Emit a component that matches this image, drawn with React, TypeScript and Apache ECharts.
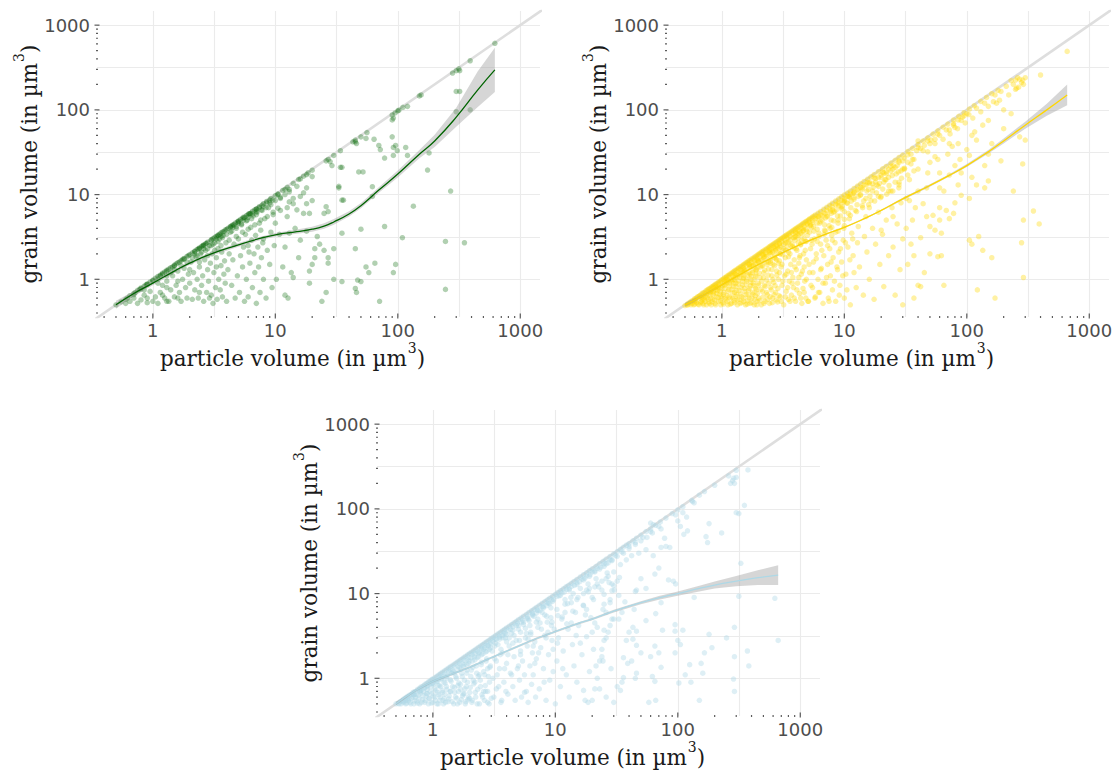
import React, { useEffect, useRef } from "react";
import * as echarts from "echarts";

// ---------- axis / tick values ----------
const X_MIN = 0.35;
const X_MAX = 1449;
const Y_MIN = 0.3589;
const Y_MAX = 1469;
const gridVals = [1, 3.162, 10, 31.62, 100, 316.2, 1000];
const majorTicks = [1, 10, 100, 1000];
const minorTicks = [0.4, 0.5, 0.6, 0.7, 0.8, 0.9, 2, 3, 4, 5, 6, 7, 8, 9, 20, 30, 40, 50, 60, 70, 80, 90, 200, 300, 400, 500, 600, 700, 800, 900];

// ---------- panel 1 (dark green) ----------
const greenDiag = [[0.5,0.5],[0.55,0.54],[0.6,0.58],[0.62,0.6],[0.65,0.64],[0.7,0.68],[0.72,0.7],[0.75,0.74],[0.78,0.76],[0.8,0.79],[0.85,0.83],[0.88,0.86],[0.9,0.88],[0.95,0.93],[1.0,0.98],[1.05,1.03],[1.1,1.08],[1.15,1.12],[1.2,1.18],[1.25,1.22],[1.3,1.28],[1.35,1.32],[1.4,1.37],[1.5,1.47],[1.55,1.52],[1.6,1.57],[1.7,1.66],[1.75,1.72],[1.8,1.76],[1.9,1.86],[2.0,1.96],[2.1,2.05],[2.2,2.15],[2.3,2.25],[2.4,2.35],[2.5,2.45],[2.6,2.55],[2.7,2.64],[2.8,2.74],[3.0,2.94],[3.1,3.03],[3.2,3.13],[3.4,3.33],[3.6,3.52],[3.7,3.62],[3.9,3.82],[4.1,4.0],[4.3,4.2],[4.5,4.4],[4.7,4.6],[5.0,4.9],[5.2,5.1],[5.5,5.4],[5.8,5.65],[6.1,5.95],[6.5,6.35],[7.0,6.8],[7.4,7.2],[8.0,7.8],[8.5,8.3],[9.2,9.0],[10,9.7],[10.5,10.2],[11.5,11.2],[12.5,12.2],[14,13.6],[15.5,15.1],[17,16.5],[18.5,18],[20,19.4],[26,25],[27,26],[30,29],[34,33],[43,42],[45,44],[50,48],[56,54],[90,87],[95,92],[100,97],[102,99],[110,107],[150,146],[155,150],[280,272],[300,290],[315,305],[390,380],[620,610],
[0.7,0.66],[0.8,0.77],[1.0,0.96],[1.2,1.15],[1.3,1.25],[1.5,1.44],[1.8,1.73],[2.2,2.12],[2.4,2.3],[2.6,2.5],[3.0,2.88],[3.4,3.26],[3.8,3.65],[4.3,4.12],[4.6,4.4],[5.0,4.8],[5.6,5.35],[6.2,5.95],[7.0,6.7],[7.8,7.5],[9,8.6],[10.5,10],[12,11.5],[16,15.3],[18,17.2],
[0.9,0.87],[1.15,1.1],[1.45,1.4],[1.65,1.6],[1.95,1.9],[2.35,2.28],[2.55,2.48],[2.75,2.66],[3.3,3.2],[3.5,3.4],[4.0,3.88],[4.4,4.28],[4.9,4.75],[5.4,5.25],[6.0,5.8],[6.8,6.6]];
const greenLow = [[0.6,0.52],[0.65,0.55],[0.7,0.6],[0.75,0.52],[0.8,0.57],[0.85,0.65],[0.9,0.6],[0.95,0.72],[0.9,0.53],[1.0,0.55],[0.85,0.75],
[1.05,0.62],[1.1,0.52],[1.15,0.7],[1.2,0.85],[1.25,0.6],[1.3,0.95],[1.35,0.55],[1.4,0.75],[1.45,1.1],[1.5,0.62],[1.55,0.85],[1.6,1.25],[1.65,0.7],[1.7,0.55],[1.75,1.0],[1.8,1.35],[1.85,0.8],[1.9,0.6],[1.95,1.15],[1.2,0.65],[1.4,1.2],[1.1,0.9],[1.3,0.55],[1.6,0.6],
[2.0,0.9],[2.05,1.6],[2.1,0.58],[2.15,1.2],[2.2,0.75],[2.25,1.85],[2.3,1.0],[2.35,0.6],[2.4,1.4],[2.45,2.0],[2.5,0.85],[2.55,1.1],[2.6,0.55],[2.65,1.7],[2.7,2.2],[2.75,0.7],[2.8,1.3],[2.85,0.95],[2.9,2.5],[2.95,1.55],[3.0,0.65],[3.05,2.0],[3.1,0.52],[3.15,1.2],[3.2,2.7],[3.25,0.8],[3.3,1.8],[3.35,0.58],[3.4,2.3],[3.45,1.0],[3.5,3.0],[3.55,0.75],[3.6,1.45],[3.65,2.1],[3.7,0.62],[3.75,3.3],[3.8,1.15],[3.85,1.65],[3.9,0.9],[3.95,2.7],[2.2,2.0],[2.6,2.3],[3.0,2.5],[3.3,3.0],[3.6,3.2],[2.4,0.7],[2.9,0.6],[3.3,1.4]];
const greenMid = [[4.0,0.55],[4.1,1.3],[4.2,2.0],[4.3,3.6],[4.4,0.85],[4.5,1.7],[4.6,2.6],[4.7,0.6],[4.8,4.0],[4.9,1.1],[5.0,3.0],[5.1,0.7],[5.2,1.9],[5.3,4.5],[5.4,1.4],[5.5,2.4],[5.6,0.55],[5.7,3.4],[5.8,1.0],[5.9,5.0],[6.0,0.62],[6.1,2.1],[6.2,1.55],[6.3,4.1],[6.4,2.9],[6.5,0.8],[6.6,5.6],[6.7,2.0],[6.8,1.2],[6.9,3.3],[7.0,0.52],[7.1,6.2],[7.2,2.4],[7.3,1.4],[7.4,4.6],[7.5,0.7],[7.6,3.8],[7.7,1.8],[7.8,6.5],[7.9,2.7],[8.0,1.0],[8.2,5.2],[8.4,0.6],[8.6,2.2],[8.8,7.0],[9.0,1.5],[9.2,3.6],[9.4,0.8],[9.6,5.8],[9.8,2.5],[4.5,4.1],[5.0,4.6],[5.5,5.0],[6.0,5.4],[6.5,5.9],[7.0,6.3],[8.0,7.2],[9.0,8.0],[9.5,8.6],[6.3,6.0],[7.4,7.0],[8.5,8.0],
[10.2,1.0],[10.5,6.9],[10.8,3.4],[11.0,9.3],[11.5,1.4],[12.0,0.65],[12.0,2.4],[12.5,5.5],[12.7,0.6],[13.0,10.8],[13.0,3.5],[13.5,1.2],[14.0,7.8],[14.0,1.05],[14.5,4.0],[15.0,12.5],[15.0,6.6],[15.5,1.8],[16.0,2.9],[17.0,10.5],[17.0,6.0],[18.0,7.8],[18.0,3.7],[19.0,1.25],[19.0,0.9],[19.0,6.0],[20.0,16.3],[20.0,8.5],[20.0,1.5],[21.0,2.3],[21.0,1.8],[22.0,3.2],[23.0,2.6],[24.0,0.55],[25.0,6.0],[25.0,2.2],[26.0,7.2],[26.0,0.7],[27.0,6.3],[27.0,1.55],[27.0,1.8],[28.0,24.5],[29.0,22],[30.0,2.3],[30.0,1.0]];
const greenBand = [[1.1,1.0],[1.3,1.1],[1.5,1.3],[1.7,1.45],[1.9,1.6],[2.1,1.8],[2.3,1.9],[2.5,2.1],[2.8,2.3],[3.1,2.6],[3.4,2.8],[3.7,3.1],[4.0,3.4],[4.4,3.7],[4.8,4.2],[5.3,4.4],[5.8,4.9],[6.4,5.2],[7.0,5.8],[7.7,6.6],[8.4,7.0],[9.2,7.6],[10,8.5],[11,9.0],[12,10],[13,11.5],[1.3,0.8],[1.6,0.95],[2.0,1.3],[2.4,1.6],[2.8,1.9],[3.2,2.2],[3.6,2.5],[4.2,2.9],[4.8,3.2],[5.4,3.6],[6.0,3.9],[6.8,4.4],[7.6,5.0],[8.6,5.5],[9.6,6.2],[11,6.5],[12.5,7.0],[14,9],[16,9.5],[18,12],[13,8.2],[10,4.6],[8,3.0],[6,2.5]];
const greenSparse = [[33,12],[33,12.5],[34,21],[35,21],[35,8.6],[36,8.6],[35,3.5],[35,0.94],[45,42],[46,40],[45,2.3],[45,0.78],[46,0.7],[47,0.98],[48,18.5],[50,3.9],[50,0.94],[52,18.5],[55,46],[55,1.4],[58,1.2],[62,9.5],[62,12.4],[64,45],[65,1.55],[70,38],[71,0.55],[72,34],[78,4.2],[78,27],[90,48],[90,76],[92,80],[92,36],[92,29],[92,1.2],[96,38],[96,1.5],[99,33],
[109,3.1],[116,36],[120,29],[120,110],[134,7.3],[175,19.5],[180,31],[245,2.8],[245,0.76],[270,11],[300,95],[320,165],[300,165],[350,2.7],[390,100],[320,290]];
const fitX1 = [0.5,0.7,1,1.5,2,3,5,7,10,15,20,25,30,40,50,70,100,150,200,300,450,620];
const fitY1 = [0.5,0.68,0.9,1.25,1.55,2.0,2.55,2.95,3.35,3.65,3.9,4.25,4.75,5.9,7.4,11.3,17.5,30,43,82,172,296];
const lo1 = [0.45,0.63,0.85,1.19,1.48,1.9,2.43,2.81,3.19,3.45,3.65,3.95,4.4,5.5,6.9,10.5,15.9,26.8,36.4,63,108,162];
const hi1 = [0.56,0.73,0.95,1.31,1.63,2.1,2.68,3.1,3.52,3.87,4.17,4.6,5.15,6.35,7.95,12.2,19.3,33.6,50.7,106,285,540];

// ---------- panel 2 (gold) ----------
const goldDiag = [[0.5,0.49],[0.52,0.5],[0.53,0.52],[0.55,0.53],[0.56,0.55],[0.58,0.56],[0.6,0.59],[0.6,0.55],[0.62,0.6],[0.63,0.62],[0.65,0.63],[0.66,0.64],[0.66,0.6],[0.68,0.67],[0.7,0.69],[0.7,0.64],[0.72,0.7],[0.74,0.73],[0.74,0.68],[0.76,0.75],[0.78,0.77],[0.78,0.71],[0.8,0.78],[0.82,0.81],[0.82,0.75],[0.84,0.82],[0.86,0.85],[0.86,0.79],[0.88,0.86],[0.9,0.89],[0.9,0.82],[0.93,0.91],[0.95,0.94],[0.95,0.87],[0.98,0.96],[1.0,0.99],[1.0,0.91],[1.03,1.01],[1.05,1.04],[1.05,0.96],[1.08,1.06],[1.1,1.09],[1.1,1.0],[1.13,1.11],[1.16,1.15],[1.16,1.05],[1.19,1.17],[1.22,1.21],[1.22,1.11],[1.25,1.23],[1.28,1.27],[1.28,1.16],[1.31,1.29],[1.35,1.34],[1.35,1.22],[1.38,1.36],[1.42,1.41],[1.42,1.29],[1.46,1.44],[1.5,1.49],[1.5,1.36],[1.54,1.52],[1.58,1.57],[1.58,1.43],[1.62,1.6],[1.66,1.65],[1.66,1.5],[1.7,1.68],[1.75,1.74],[1.75,1.58],[1.8,1.78],[1.85,1.83],[1.85,1.67],[1.9,1.88],[1.95,1.93],[1.95,1.76],[2.0,1.98],[2.05,2.03],[2.05,1.85],[2.1,2.08],[2.15,2.13],[2.15,1.94],[2.2,2.18],[2.27,2.25],[2.27,2.05],[2.33,2.3],[2.4,2.38],[2.4,2.16],[2.46,2.43],[2.52,2.5],[2.52,2.27],[2.58,2.55],[2.65,2.62],[2.65,2.38],[2.72,2.69],[2.8,2.77],[2.8,2.52],[2.88,2.85],[2.95,2.92],[2.95,2.65],[3.03,3.0],[3.1,3.07],[3.1,2.79],[3.18,3.14],[3.25,3.22],[3.25,2.92],[3.33,3.29],[3.4,3.37],[3.4,3.06],[3.5,3.46],[3.6,3.56],[3.6,3.24],[3.7,3.66],[3.8,3.76],[3.8,3.42],[3.9,3.86],[4.0,3.96],[4.0,3.6],[4.1,4.05],[4.2,4.15],[4.2,3.78],[4.33,4.28],[4.45,4.4],[4.45,4.0],[4.58,4.53],[4.7,4.65],[4.7,4.23],[4.83,4.78],[4.95,4.9],[4.95,4.45],[5.1,5.04],[5.2,5.15],[5.2,4.68],[5.35,5.29],[5.5,5.44],[5.5,4.95],[5.65,5.58],[5.8,5.74],[5.8,5.2],[6.1,6.03],[6.1,5.5],[6.4,6.33],[6.4,5.75],[6.8,6.72],[6.8,6.1],[7.2,7.1],[7.2,6.5],[7.6,7.5],[7.6,6.8],[8.0,7.9],[8.0,7.2],[8.5,8.4],[8.5,7.6],[9.0,8.9],[9.0,8.1],[9.5,9.4],[9.5,8.5],[10,9.9],[10,9.0],[10.6,10.4],[10.6,9.5],[11.2,11.0],[11.2,10.1],[12,11.8],[12,10.8],[12.8,12.6],[12.8,11.5],[13.6,13.4],[13.6,12.2],[14.5,14.3],[14.5,13],[15.5,15.2],[15.5,13.9],[16.5,16.2],[17.5,17.2],[17.5,15.7],[19,18.6],[20.5,20.1],[20.5,18.4],[22,21.5],[24,23.5],[24,21.6],[26,25.4],[28,27.4],[28,25],[30,29.3],[33,32.3],[33,29.5],[36,35.2],[40,39],[40,35.8],[44,43],[48,46.8],[48,43],[53,51.7],[58,56.6],[58,51.8],[64,62.4],[70,68],[78,76],[78,69],[86,84],[95,92.6],[95,85],[105,102],[115,112],[130,126],[145,140],[160,155],[180,170],[230,222],[250,225],[260,240]];
const goldWedge = [[0.56,0.5],[0.6,0.51],[0.62,0.53],[0.65,0.5],[0.68,0.55],[0.7,0.52],[0.72,0.58],[0.75,0.5],[0.76,0.61],[0.78,0.54],[0.8,0.65],[0.82,0.5],[0.84,0.58],[0.86,0.69],[0.88,0.52],[0.9,0.62],[0.92,0.74],[0.94,0.55],[0.96,0.67],[0.98,0.5],[1.0,0.78],[1.0,0.6],
[1.02,0.53],[1.04,0.7],[1.06,0.85],[1.08,0.57],[1.1,0.64],[1.12,0.5],[1.14,0.76],[1.16,0.9],[1.18,0.6],[1.2,0.52],[1.22,0.69],[1.24,0.82],[1.26,0.56],[1.28,0.98],[1.3,0.63],[1.32,0.74],[1.34,0.5],[1.36,0.88],[1.38,0.58],[1.4,1.05],[1.42,0.67],[1.44,0.8],[1.46,0.53],[1.48,0.94],[1.5,0.6],[1.52,1.12],[1.54,0.72],[1.56,0.5],[1.58,0.86],[1.6,1.0],[1.62,0.56],[1.64,0.65],[1.66,1.2],[1.68,0.78],[1.7,0.52],[1.72,0.92],[1.74,1.08],[1.76,0.6],[1.78,0.7],[1.8,1.28],[1.82,0.84],[1.84,0.5],[1.86,1.0],[1.88,0.64],[1.9,1.15],[1.92,0.75],[1.94,0.55],[1.96,1.36],[1.98,0.9],
[2.0,0.6],[2.05,1.05],[2.1,0.5],[2.12,1.45],[2.15,0.72],[2.2,1.2],[2.22,0.85],[2.25,0.55],[2.3,1.6],[2.32,0.98],[2.35,0.66],[2.4,1.32],[2.45,0.52],[2.48,1.75],[2.5,0.8],[2.55,1.1],[2.6,0.6],[2.62,1.5],[2.65,0.92],[2.7,1.9],[2.75,0.7],[2.8,1.25],[2.85,0.54],[2.88,2.05],[2.9,1.0],[2.95,1.65],[3.0,0.62],[3.05,1.4],[3.1,0.85],[3.15,2.2],[3.2,0.5],[3.25,1.1],[3.3,1.8],[3.35,0.72],[3.4,2.4],[3.45,1.25],[3.5,0.58],[3.55,0.95],[3.6,2.0],[3.65,1.5],[3.7,0.65],[3.75,2.6],[3.8,1.05],[3.85,0.8],[3.9,1.7],[3.95,2.9],[4.0,0.55],[4.05,1.3],[4.1,2.2],[4.15,0.9],[4.2,3.1],[4.25,1.55],[4.3,0.68],[4.35,1.9],[4.4,2.6],[4.45,1.15],[4.5,0.52],[4.55,3.4],[4.6,0.78],[4.65,2.0],[4.7,1.4],[4.75,0.95],[4.8,2.8],[4.85,0.6],[4.9,1.7],[4.95,3.7],
[0.7,0.6],[0.8,0.7],[0.95,0.78],[1.1,0.9],[1.25,1.0],[1.4,1.15],[1.55,1.25],[1.7,1.4],[1.9,1.5],[2.1,1.7],[2.3,1.85],[2.6,2.1],[2.9,2.3],[3.2,2.6],[3.6,2.9],[4.0,3.2],[4.4,3.5],[4.9,3.9],[1.2,0.95],[1.5,1.2],[2.0,1.6],[2.5,2.0],[3.0,2.4],[3.5,2.75],[4.2,3.3],[0.85,0.72],[1.05,0.88],[1.35,1.1],[1.8,1.45],[2.2,1.8],[2.75,2.2],[3.3,2.7],[3.9,3.1],[4.6,3.7]];
const goldFill = [[0.53,0.5],[0.57,0.52],[0.59,0.5],[0.61,0.56],[0.64,0.51],[0.67,0.53],[0.69,0.57],[0.71,0.5],[0.73,0.62],[0.73,0.55],[0.77,0.58],[0.79,0.52],[0.81,0.6],[0.81,0.72],[0.83,0.54],[0.85,0.66],[0.87,0.57],[0.89,0.75],[0.89,0.5],[0.91,0.68],[0.93,0.61],[0.94,0.82],[0.97,0.56],[0.97,0.72],[0.99,0.63],[1.01,0.84],[1.03,0.51],[1.03,0.66],[1.06,0.78],[1.07,0.6],[1.09,0.93],[1.11,0.55],[1.12,0.72],[1.15,0.83],[1.15,0.62],[1.17,0.51],[1.19,0.99],[1.21,0.76],[1.23,0.6],[1.24,0.9],[1.27,0.53],[1.27,0.7],[1.29,1.06],[1.31,0.82],[1.33,0.66],[1.34,0.57],[1.37,0.96],[1.39,0.74],[1.41,0.52],[1.43,1.2],[1.45,0.62],[1.47,0.86],[1.49,1.02],[1.51,0.55],[1.53,0.78],[1.55,1.32],[1.57,0.66],[1.59,0.95],[1.61,0.51],[1.63,1.12],[1.65,0.74],[1.67,0.6],[1.69,1.42],[1.71,0.84],[1.73,1.0],[1.76,0.53],[1.78,1.2],[1.79,0.67],[1.81,0.9],[1.83,1.55],[1.86,0.58],[1.88,0.78],[1.89,1.08],[1.91,1.3],[1.93,0.5],[1.95,0.68],[1.97,1.66],[1.99,0.85],[2.02,1.18],[2.04,0.56],[2.07,1.4],[2.09,0.76],[2.11,0.95],[2.14,1.7],[2.17,0.62],[2.19,1.05],[2.21,0.52],[2.24,1.28],[2.26,0.82],[2.29,1.95],[2.31,0.7],[2.34,1.5],[2.36,0.58],[2.39,1.12],[2.42,0.9],[2.44,2.05],[2.47,0.62],[2.5,1.65],[2.53,0.75],[2.56,1.3],[2.58,0.53],[2.61,1.0],[2.64,2.2],[2.67,0.66],[2.69,1.45],[2.72,0.84],[2.75,1.75],[2.78,0.57],[2.81,1.12],[2.84,2.4],[2.87,0.78],[2.9,1.55],[2.93,0.64],[2.96,1.2],[2.99,2.0],[0.6,0.57],[0.75,0.66],[0.92,0.8],[1.13,0.97],[1.32,1.13],[1.52,1.29],[1.74,1.45],[1.98,1.64],[2.23,1.86],[2.48,2.1],[2.74,2.3],[2.98,2.5],[0.68,0.62],[0.88,0.8],[1.08,0.98],[1.26,1.12],[1.46,1.3],[1.68,1.5],[1.92,1.7],[2.18,1.95],[2.45,2.2],[2.72,2.45],[2.97,2.65]];
const goldMid = [[5.1,0.55],[5.2,1.2],[5.3,2.3],[5.4,4.1],[5.5,0.8],[5.6,1.6],[5.7,3.0],[5.8,0.62],[5.9,2.0],[6.0,4.6],[6.1,1.0],[6.2,3.5],[6.3,0.7],[6.4,2.6],[6.5,1.35],[6.6,5.0],[6.7,0.52],[6.8,1.9],[6.9,3.8],[7.0,0.9],[7.1,2.9],[7.2,5.5],[7.3,1.5],[7.4,0.6],[7.5,4.3],[7.6,2.3],[7.7,1.1],[7.8,6.0],[7.9,3.3],[8.0,0.75],[8.1,1.8],[8.2,4.9],[8.4,2.7],[8.5,0.55],[8.6,6.6],[8.8,1.3],[8.9,3.7],[9.0,2.1],[9.2,0.85],[9.3,5.6],[9.5,1.6],[9.6,7.2],[9.8,2.9],[10,0.6],[10,4.3],[10.3,1.15],[10.5,8.0],[10.7,2.4],[11,5.2],[11.2,0.5],[11.5,3.5],[11.8,1.9],[12,9.2],[12.3,6.5],[12.5,0.8],[12.8,2.7],[13,4.2],[13.3,1.4],[13.6,10],[14,7.4],[14.3,0.65],[14.6,3.2],[15,5.5],[15.3,2.1],[15.7,11.5],[16,1.0],[16.5,8.5],[17,4.0],[17.5,0.58],[18,2.6],[18.5,13],[19,6.2],[19.5,1.5],[20,9.5],[20.5,3.4],[21,0.82],[21.5,15],[22,5],[23,1.9],[24,11],[24.5,7],[25,2.4],[26,0.65],[26.5,17.5],[27,4.5],[28,13],[28.5,1.3],[29,8],[30,3.0],[30,20],[20,16],[22,17.5],[24,19],[26,21],[28,24],[30,25],[16,14],[18,15.5],[14,12],[12,10.5],[10,8.3],[11,9.5],[13,11],[15,13],[17,13.5],[19,16],[21,18],[23,20],[25,22]];
const goldMid2 = [[3.05,0.55],[3.1,1.5],[3.15,0.95],[3.2,2.3],[3.3,0.62],[3.35,1.15],[3.4,2.7],[3.45,0.8],[3.5,1.85],[3.6,0.55],[3.65,2.5],[3.7,1.2],[3.75,0.9],[3.85,3.1],[3.9,0.6],[3.95,1.4],[4.05,2.3],[4.1,0.75],[4.15,3.5],[4.25,1.05],[4.3,1.8],[4.4,0.6],[4.5,2.9],[4.55,1.25],[4.65,3.8],[4.7,0.7],[4.8,2.2],[4.9,1.0],[5.0,3.3],[5.05,0.55],[5.15,1.5],[5.25,4.3],[5.35,0.85],[5.45,2.6],[5.55,1.2],[5.65,3.7],[5.75,0.6],[5.9,1.75],[6.0,2.8],[6.15,0.7],[6.3,4.6],[6.4,1.3],[6.55,2.2],[6.7,0.9],[6.85,3.4],[7.0,5.3],[7.15,1.05],[7.3,2.5],[7.5,0.55],[7.65,4.0],[7.8,1.6],[8.0,2.9],[8.15,6.2],[8.3,0.95],[8.5,3.6],[8.7,1.4],[8.9,5.0],[9.1,0.65],[9.3,2.3],[9.5,6.8],[9.7,1.1],[9.9,4.0],[10.2,2.7],[10.5,0.75],[10.8,6.0],[11.1,1.7],[11.4,8.4],[11.7,3.0],[12,1.2],[5.0,4.5],[6.0,5.2],[7.0,6.0],[8.0,6.6],[9.0,7.4],[10,8.6],[11,9.2],[4.3,3.7],[5.5,4.7],[6.6,5.6],[7.7,6.4],[8.8,7.8],[9.8,8.1],[10.8,9.6],[11.8,10.3],[3.5,3.1],[4.0,3.5],[4.6,4.0],[5.3,4.4],[6.2,5.5]];
const goldBand = [[5.2,3.6],[5.6,4.2],[6.0,3.9],[6.4,4.8],[6.9,4.4],[7.3,5.6],[7.8,5.0],[8.3,6.3],[8.8,5.6],[9.4,7.1],[10,6.3],[10.6,7.9],[11.3,7.0],[12,8.8],[12.7,7.6],[13.5,9.8],[14.4,8.4],[15.3,11],[16.2,9.6],[17.2,12.2],[18.3,10.5],[19.4,13.6],[20.6,11.6],[21.9,15],[23.2,12.8],[24.6,16.8],[26,14],[27.6,18.5],[29.3,15.6],[31,20.5],[33,17],[35,23],[37,19],[5.4,2.9],[6.2,3.2],[7.0,3.7],[7.9,4.1],[8.9,4.6],[10,5.1],[11.2,5.7],[12.6,6.3],[14.1,7],[15.8,7.6],[17.7,8.4],[19.8,9.2],[22.2,10.1],[24.9,11],[27.9,12],[1.3,0.9],[1.5,1.05],[1.7,1.15],[1.9,1.3],[2.15,1.45],[2.4,1.6],[2.7,1.8],[3.0,2.0],[3.35,2.2],[3.75,2.45],[4.2,2.7],[4.7,3.0],[2.5,1.55],[2.8,1.7],[3.15,1.95],[3.5,2.1],[3.9,2.35],[4.4,2.55],[4.9,2.8]];
const goldUpper = [[13,9.5],[14,11.5],[15,9],[16,13.5],[17,11],[18,14],[19,12.5],[20,17],[21,14],[22,18.5],[23,16],[25,20],[27,22],[29,19],[31,27],[33,24],[35,30],[37,26],[39,33],[42,35],[45,38],[48,32],[51,44],[55,40],[60,50],[64,45],[68,58],[73,52],[78,66],[84,60],[90,75],[97,70],[104,88],[112,80],[120,105],[130,95],[140,120],[150,110],[170,150],[190,165],[210,190],[240,200],[270,230],[300,240],[16,7],[19,9.5],[23,11],[28,14],[34,15],[40,20],[48,18],[58,26],[70,30],[85,40],[110,50],[135,66],[20,3.8],[25,5.5],[32,4],[40,11],[60,12],[80,8],[110,16],[160,40],[200,100],[220,150],[190,25]];
const goldSparse = [[31,20],[32,9],[33,1.5],[34,8.5],[36,26],[36,5],[37,1.9],[37,0.6],[38,7],[40,43],[40,0.85],[42,0.82],[44,33],[44,7.8],[47,5.5],[50,40],[50,24],[50,4.2],[50,2.0],[53,5.7],[55,45],[55,28],[55,3.8],[58,1.85],[60,18],[60,7],[60,5],[62,1.9],[62,3.5],[65,0.85],[68,6.5],[72,58],[72,40],[72,17],[72,5.2],[76,37],[78,6],[80,62],[80,22],[85,76],[88,26],[90,18],[90,9.8],[92,82],[100,90],[100,34],[105,29],[105,9],[105,2.9],[110,2.6],[116,55],[120,13],[122,0.75],[125,3.2],[135,2.2],[140,22],[140,12],[150,75],[150,30],[150,14.5],[160,1.8],[165,125],[170,0.6],[175,120],[185,130],[240,11],[250,175],[255,180],[265,185],[270,48],[280,210],[280,2.7],[286,225],[286,23],[290,200],[290,5],[290,1.05],[300,44],[350,6.4],[390,4.5],[400,258],[660,490],[30,0.5],[45,1.2],[35,2.6],[42,3.1],[47,12],[65,11],[85,13],[120,44],[200,60],[230,90]];
const fitX2 = [0.5,0.7,1,1.5,2,3,5,7,10,15,20,30,50,70,100,150,200,300,450,660];
const fitY2 = [0.5,0.64,0.86,1.2,1.5,2.0,2.8,3.4,4.1,5.3,6.5,8.9,12.8,16.5,22,32,43,66,100,150];
const lo2 = [0.47,0.62,0.84,1.18,1.47,1.96,2.75,3.33,4.02,5.2,6.37,8.64,12.4,16,21.2,30.5,40.2,60,85,113];
const hi2 = [0.53,0.66,0.88,1.22,1.53,2.04,2.86,3.47,4.18,5.41,6.63,9.17,13.2,17,22.9,33.6,46,72.6,118,199];

// ---------- panel 3 (light blue) ----------
const blueDiag = [[0.5,0.5],[0.52,0.51],[0.54,0.53],[0.56,0.55],[0.58,0.57],[0.6,0.59],[0.62,0.61],[0.64,0.63],[0.66,0.64],[0.68,0.67],[0.7,0.69],[0.72,0.7],[0.75,0.74],[0.78,0.76],[0.8,0.79],[0.83,0.81],[0.86,0.85],[0.89,0.87],[0.92,0.91],[0.95,0.93],[0.98,0.97],[1.0,0.98],[1.04,1.02],[1.08,1.06],[1.12,1.1],[1.16,1.14],[1.2,1.18],[1.25,1.23],[1.3,1.28],[1.35,1.33],[1.4,1.38],[1.46,1.43],[1.52,1.49],[1.58,1.55],[1.64,1.61],[1.7,1.67],[1.77,1.74],[1.84,1.81],[1.92,1.89],[2.0,1.97],[2.08,2.04],[2.16,2.12],[2.25,2.21],[2.35,2.31],[2.45,2.41],[2.55,2.5],[2.65,2.6],[2.76,2.71],[2.88,2.83],[3.0,2.95],[3.12,3.06],[3.25,3.19],[3.4,3.34],[3.55,3.49],[3.7,3.63],[3.85,3.78],[4.0,3.93],[4.2,4.12],[4.4,4.32],[4.6,4.52],[4.8,4.71],[5.0,4.91],[5.25,5.15],[5.5,5.4],[5.8,5.69],[6.1,5.99],[6.4,6.28],[6.7,6.57],[7.0,6.87],[7.4,7.26],[7.8,7.65],[8.2,8.05],[8.6,8.44],[9.0,8.83],[9.5,9.32],[10,9.8],[10.5,10.3],[11,10.8],[11.6,11.4],[12.2,12],[12.8,12.5],[13.5,13.2],[14.2,13.9],[15,14.7],[16,15.7],[17,16.7],[18,17.6],[19,18.6],[20,19.6],[21.5,21],[23,22.5],[24.5,24],[26,25.5],[28,27.4],[30,29.4],[32,31.3],[34,33.3],[36,35.3],[38,37.2],[40,39],[43,42],[46,45],[50,49],[55,54],[60,58],[66,64],[72,70],[80,78],[90,88],[100,97],[110,106],[130,126],[150,145],[200,190],[260,245],[300,285],
[0.62,0.57],[0.7,0.64],[0.78,0.71],[0.86,0.78],[0.95,0.86],[1.05,0.95],[1.15,1.04],[1.25,1.13],[1.38,1.25],[1.5,1.36],[1.65,1.49],[1.8,1.63],[1.95,1.76],[2.1,1.9],[2.3,2.08],[2.5,2.26],[2.7,2.44],[2.95,2.66],[3.2,2.89],[3.5,3.16],[3.8,3.43],[4.1,3.7],[4.5,4.06],[4.9,4.42],[5.4,4.87],[5.9,5.32],[6.5,5.86],[7.1,6.4],[7.8,7.03],[8.6,7.75],[9.4,8.47],[10.3,9.28],[11.3,10.2],[12.4,11.2],[13.6,12.2],[15,13.5],[16.5,14.8],[18,16.2],[20,18],[22,19.8],[25,22.5],[28,25],[31,28],[35,31],[40,36],[45,40],[52,46],[60,54],[70,62]];
const blueWedge = [[0.55,0.5],[0.58,0.52],[0.6,0.5],[0.63,0.55],[0.65,0.52],[0.67,0.58],[0.7,0.5],[0.72,0.6],[0.74,0.54],[0.76,0.63],[0.78,0.5],[0.8,0.67],[0.82,0.56],[0.84,0.7],[0.86,0.52],[0.88,0.62],[0.9,0.74],[0.92,0.5],[0.94,0.58],[0.96,0.8],[0.98,0.66],[1.0,0.52],[1.02,0.86],[1.04,0.6],[1.06,0.72],[1.08,0.5],[1.1,0.92],[1.12,0.64],[1.14,0.55],[1.16,0.8],[1.18,0.98],[1.2,0.68],[1.22,0.5],[1.24,0.58],[1.26,0.88],[1.28,1.05],[1.3,0.74],[1.33,0.53],[1.36,0.62],[1.39,0.96],[1.42,1.15],[1.45,0.8],[1.48,0.5],[1.51,0.68],[1.54,1.05],[1.57,0.58],[1.6,1.25],[1.63,0.88],[1.66,0.52],[1.69,0.74],[1.72,1.15],[1.75,0.62],[1.78,1.38],[1.81,0.95],[1.84,0.5],[1.87,0.8],[1.9,1.25],[1.93,0.56],[1.96,1.5],[2.0,0.68],[2.04,1.05],[2.08,0.52],[2.12,1.35],[2.16,0.86],[2.2,1.65],[2.24,0.6],[2.28,1.15],[2.32,0.74],[2.36,1.8],[2.4,0.5],[2.44,0.95],[2.48,1.45],[2.52,0.64],[2.56,1.95],[2.6,1.2],[2.64,0.55],[2.68,0.82],[2.72,1.6],[2.76,2.1],[2.8,0.7],[2.84,1.05],[2.88,0.5],[2.92,1.35],[2.96,2.3],[1.3,1.0],[1.5,1.15],[1.7,1.3],[1.9,1.45],[2.1,1.6],[2.3,1.75],[2.5,1.9],[2.7,2.05],[2.9,2.2],[1.1,0.82],[0.9,0.66],[1.4,0.7],[1.6,0.82],[1.8,0.66],[2.0,0.58],[2.2,0.9],[2.4,1.1],[2.6,0.7],[2.8,1.3]];
const blueFill = [[0.53,0.5],[0.57,0.53],[0.61,0.51],[0.64,0.57],[0.66,0.5],[0.69,0.6],[0.71,0.54],[0.73,0.65],[0.75,0.51],[0.77,0.58],[0.79,0.7],[0.81,0.52],[0.83,0.62],[0.85,0.76],[0.87,0.55],[0.89,0.66],[0.91,0.82],[0.93,0.58],[0.95,0.7],[0.97,0.51],[0.99,0.86],[1.01,0.62],[1.03,0.75],[1.05,0.55],[1.07,0.92],[1.09,0.68],[1.11,0.5],[1.13,0.82],[1.15,0.6],[1.17,1.0],[1.19,0.72],[1.21,0.55],[1.23,0.9],[1.25,0.65],[1.27,0.52],[1.29,0.8],[1.32,1.1],[1.35,0.57],[1.38,0.7],[1.41,0.92],[1.44,0.53],[1.47,1.2],[1.5,0.78],[1.53,0.6],[1.56,1.0],[1.59,0.5],[1.62,0.7],[1.65,1.35],[1.68,0.85],[1.71,0.56],[1.74,1.05],[1.77,0.65],[1.8,1.45],[1.83,0.75],[1.86,0.53],[1.89,1.15],[1.92,0.9],[1.95,0.6],[1.98,1.6],[2.02,0.78],[2.06,1.25],[2.1,0.55],[2.14,0.95],[2.18,1.8],[2.22,0.68],[2.26,1.4],[2.3,0.5],[2.35,1.05],[2.4,2.0],[2.45,0.8],[2.5,1.55],[2.55,0.6],[2.6,2.2],[2.65,1.1],[2.7,0.7],[2.75,1.7],[2.8,0.52],[2.85,2.4],[2.9,0.9],[2.95,1.4],[3.05,2.1],[3.15,0.6],[3.25,2.6],[3.35,1.1],[3.45,0.8],[3.55,1.9],[3.65,0.55],[3.75,3.0],[3.85,1.3],[3.95,0.7],[1.2,1.05],[1.45,1.25],[1.75,1.5],[2.05,1.75],[2.35,2.0],[2.65,2.3],[2.95,2.55],[3.3,2.9],[3.7,3.2],[0.7,0.64],[0.9,0.8],[1.1,0.97],[0.6,0.55],[0.8,0.72],[1.0,0.88],[1.35,1.2],[1.6,1.4],[1.9,1.65],[2.2,1.95],[2.5,2.2],[2.8,2.45],[3.1,2.75],[3.5,3.05],[3.9,3.4]];
const blueMid = [[3.0,0.58],[3.1,1.0],[3.2,1.7],[3.3,0.75],[3.4,2.5],[3.5,1.3],[3.6,0.52],[3.7,2.0],[3.8,0.9],[3.9,3.0],[4.0,1.5],[4.1,0.65],[4.2,2.4],[4.3,1.15],[4.4,3.4],[4.5,0.8],[4.6,1.8],[4.7,0.55],[4.8,2.8],[4.9,1.3],[5.0,3.8],[5.1,0.95],[5.2,2.1],[5.3,0.6],[5.4,1.6],[5.5,4.3],[5.6,1.1],[5.7,3.0],[5.8,0.7],[5.9,2.4],[6.0,0.52],[6.1,4.8],[6.2,1.4],[6.3,3.5],[6.4,0.85],[6.5,2.0],[6.6,1.1],[6.7,5.4],[6.8,2.7],[6.9,0.6],[7.0,1.7],[7.2,4.0],[7.4,0.75],[7.6,2.3],[7.8,6.0],[8.0,1.3],[8.2,3.2],[8.4,0.55],[8.6,4.6],[8.8,1.9],[9.0,0.95],[9.2,6.8],[9.4,2.8],[9.6,1.2],[9.8,3.8],[3.5,2.9],[4.0,3.3],[4.5,3.7],[5.0,4.2],[5.5,4.6],[6.0,5.0],[6.5,5.5],[7.0,5.9],[7.5,6.3],[8.0,6.8],[8.5,7.2],[9.0,7.6],[9.5,8.1],[4.2,3.0],[5.2,3.5],[6.2,4.2],[7.2,5.0],[8.2,5.6],[9.2,5.2],
[10,0.5],[10.3,1.6],[10.6,3.0],[11,0.8],[11.3,5.0],[11.6,2.1],[12,7.5],[12.3,1.1],[12.7,3.8],[13,0.6],[13.4,9],[13.8,2.5],[14.2,1.4],[14.6,6],[15,0.9],[15.5,4.2],[16,11.5],[16.5,1.9],[17,7.2],[17.5,0.55],[18,3.1],[18.5,13],[19,1.2],[19.5,5.2],[20,9],[20.5,2.2],[21,0.75],[21.5,15],[22,4],[23,1.6],[24,11],[24.5,6.5],[25,2.8],[26,0.6],[26.5,17.5],[27,3.5],[28,8.5],[28.5,1.3],[29,13],[30,5],[11,9.5],[13,11],[15,12.8],[17,14.5],[19,16],[21,18],[23,19.5],[25,21],[27,23],[29,24.5],[12,8.5],[14,10],[18,11],[22,13],[26,15]];
const blueMid2 = [[4.3,3.8],[4.8,4.2],[5.3,4.6],[5.9,5.1],[6.5,5.7],[7.2,6.3],[8.0,7.0],[8.8,7.7],[9.7,8.5],[10.7,9.4],[11.8,10.4],[13,11.4],[14.3,12.5],[15.8,13.8],[17.4,15.2],[19.2,16.8],[21,18.5],[23.5,20.5],[26,22.5],[29,25],[32,27.5],[36,30],[40,34],[45,38],[50,42],[56,46],[62,52],[4.5,2.6],[5.2,1.9],[5.8,3.4],[6.6,2.4],[7.5,4.5],[8.4,3.0],[9.3,4.2],[10.5,5.5],[12,6.0],[13.5,7.8],[15,8.5],[17,10],[19,11.5],[21,12],[24,14],[27,16],[30,18],[34,22],[38,25],[42,28],[48,30],[55,33],[4.4,1.1],[5.6,0.68],[6.8,1.5],[8.1,0.9],[9.6,2.2],[11.5,1.3],[13.5,4.5],[16,2.6],[18,6.5],[20,3.5],[24,1.8],[28,4.2],[33,9.5],[38,2.8],[44,6.5],[50,15],[55,4.8]];
const blueBand = [[3.2,2.4],[3.6,2.2],[4.0,2.7],[4.6,3.2],[5.1,2.8],[5.7,3.9],[6.3,3.3],[7.0,4.6],[7.7,3.8],[8.5,5.4],[9.4,4.6],[10.3,6.5],[11.4,5.3],[12.6,7.6],[13.9,6.2],[15.3,9],[16.9,7.3],[18.6,10.5],[20.5,8.5],[22.6,12],[25,9.8],[27.5,13.5],[30.3,11],[33.4,15.5],[3.3,1.6],[4.1,1.9],[5.0,1.4],[6.0,2.9],[7.3,2.0],[8.7,3.5],[10.4,2.6],[12.4,4.4],[14.8,3.2],[17.6,5.6],[21,4.5],[25,7.5]];
const blueSparse = [[374,288],[286,230],[300,235],[280,215],[270,200],[290,200],[132,122],[136,118],[165,160],[350,110],[300,90],[315,88],[180,67],[228,52],[170,47],[175,40],[120,55],[112,50],[105,62],[96,85],[100,72],[110,90],[118,80],[78,45],[80,36],[86,35],[73,58],[63,65],[60,68],[63,28],[73,35],[70,20],[65,17],[46,11],[45,10.6],[55,11.5],[84,14.5],[92,14],[96,13],[136,9],[315,9.3],[620,8.8],[327,22.8],[660,2.8],[370,2.1],[380,1.4],[290,4],[250,3.0],[290,1.8],[285,0.98],[290,0.7],[180,3.3],[190,2.3],[165,2.0],[155,1.5],[160,1.15],[125,1.45],[128,0.9],[150,0.55],[100,2.8],[95,2.0],[105,2.5],[95,4.3],[95,3.6],[110,3.7],[115,1.1],[102,0.88],[73,7.8],[66,5.8],[75,3.7],[65,2.4],[70,2.0],[60,1.8],[73,1.35],[62,1.05],[65,0.92],[66,0.55],[58,0.52],[46,2.45],[50,2.0],[43,2.9],[42,1.6],[46,1.15],[45,1.0],[36,1.02],[35,0.9],[34,0.72],[30,0.52],[32,0.8],[36,1.75],[39,1.5],[40,3.5],[43,4.0],[46,3.6],[37,8],[35,6],[33,5],[32,14],[30,12.4],[29,10.8],[28,7.8],[26,6],[29,5],[25,3.7],[26,3.0],[24,2.2],[24.5,1.6],[21.5,1.4],[22,1.0],[23,0.75],[20,0.55],[18.5,0.52],[17,0.72]];
const fitX3 = [0.5,0.7,1,1.5,2,3,5,7,10,15,20,30,50,70,100,150,200,300,450,660];
const fitY3 = [0.5,0.7,0.92,1.15,1.35,1.75,2.4,2.95,3.55,4.4,5.0,6.2,7.8,8.9,10,11.5,12.6,14,15.4,16.5];
const lo3 = [0.48,0.68,0.89,1.12,1.31,1.7,2.33,2.86,3.45,4.27,4.85,5.96,7.5,8.48,9.43,10.6,11.5,12.2,12.6,12.6];
const hi3 = [0.53,0.72,0.95,1.18,1.39,1.8,2.47,3.04,3.66,4.53,5.15,6.45,8.11,9.35,10.6,12.4,13.9,16.1,18.8,21.6];

const PANELS = [
  { left: 97, top: 11, pts: [greenDiag, greenLow, greenMid, greenBand, greenSparse], fitX: fitX1, fitY: fitY1, lo: lo1, hi: hi1, line: "#006400", dot: "rgba(0,100,0,0.38)" },
  { left: 666, top: 11, pts: [goldDiag, goldWedge, goldFill, goldMid, goldMid2, goldBand, goldUpper, goldSparse], fitX: fitX2, fitY: fitY2, lo: lo2, hi: hi2, line: "#FFD700", dot: "rgba(255,215,0,0.45)" },
  { left: 377, top: 410, pts: [blueDiag, blueWedge, blueFill, blueMid, blueMid2, blueBand, blueSparse], fitX: fitX3, fitY: fitY3, lo: lo3, hi: hi3, line: "#ADD8E6", dot: "rgba(173,216,230,0.5)" },
];

const W = 443;
const H = 306;
const LABEL_FONT = "DejaVu Sans";
const TITLE_FONT = "DejaVu Serif";

function decadeLabel(v: number): string {
  const l = Math.log10(v);
  const r = Math.round(l);
  return Math.abs(l - r) < 1e-6 && r >= 0 ? String(Math.round(Math.pow(10, r))) : "";
}

const titleRich = {
  m: { fontFamily: TITLE_FONT, fontSize: 21.5, color: "#1a1a1a", lineHeight: 28, verticalAlign: "bottom" },
  s: { fontFamily: TITLE_FONT, fontSize: 14, color: "#1a1a1a", lineHeight: 28, verticalAlign: "top", padding: [0, 0, 0, 1] },
};

export default function App() {
  const ref = useRef<HTMLDivElement>(null);
  useEffect(() => {
    if (!ref.current) return;
    const chart = echarts.init(ref.current, null, { renderer: "svg" });
    const grid: any[] = [];
    const xAxis: any[] = [];
    const yAxis: any[] = [];
    const series: any[] = [];
    PANELS.forEach((p, i) => {
      grid.push({ left: p.left, top: p.top, width: W, height: H, containLabel: false, outerBoundsMode: "none" });
      xAxis.push({
        type: "log", logBase: 10, gridIndex: i, min: X_MIN, max: X_MAX,
        axisLine: { show: false }, axisTick: { show: false }, splitLine: { show: false }, minorTick: { show: false },
        axisLabel: { formatter: decadeLabel, fontFamily: LABEL_FONT, fontSize: 18, color: "#4d4d4d", margin: 4 },
        name: "{m|particle volume (in µm}{s|3}{m|)}", nameLocation: "middle", nameGap: 24,
        nameTextStyle: { padding: [0, 52, 0, 0], rich: titleRich },
      });
      yAxis.push({
        type: "log", logBase: 10, gridIndex: i, min: Y_MIN, max: Y_MAX,
        axisLine: { show: false }, axisTick: { show: false }, splitLine: { show: false }, minorTick: { show: false },
        axisLabel: { formatter: decadeLabel, fontFamily: LABEL_FONT, fontSize: 18, color: "#4d4d4d", margin: 7 },
        name: "{m|grain volume (in µm}{s|3}{m|)}", nameLocation: "middle", nameGap: 53, nameRotate: 90,
        nameTextStyle: { rich: titleRich },
      });
      // gridlines
      series.push({
        type: "line", xAxisIndex: i, yAxisIndex: i, data: [], silent: true, z: 1,
        markLine: {
          silent: true, z: 1, symbol: ["none", "none"], label: { show: false }, animation: false,
          lineStyle: { color: "#ebebeb", width: 1.1, type: "solid" },
          data: [...gridVals.map((v) => ({ xAxis: v })), ...gridVals.map((v) => ({ yAxis: v }))],
        },
      });
      // y = x reference line
      series.push({
        type: "line", xAxisIndex: i, yAxisIndex: i, data: [[0.3, 0.3], [2000, 2000]], symbol: "none", silent: true, z: 2,
        clip: true, lineStyle: { color: "#dedede", width: 2.6 },
      });
      // points
      p.pts.forEach((arr) => {
        series.push({
          type: "scatter", xAxisIndex: i, yAxisIndex: i, data: arr, symbol: "circle", symbolSize: 5.5, silent: true, z: 3,
          itemStyle: { color: p.dot, borderWidth: 0 },
        });
      });
      // confidence band
      const fx = p.fitX, lo = p.lo, hi = p.hi;
      series.push({
        type: "custom", xAxisIndex: i, yAxisIndex: i, silent: true, z: 4,
        data: fx.map((x, k) => [x, lo[k], hi[k]]),
        encode: { x: 0, y: [1, 2] },
        renderItem: (params: any, api: any) => {
          if (params.dataIndex !== 0) return null;
          const up = fx.map((x, k) => api.coord([x, hi[k]]));
          const dn = fx.map((x, k) => api.coord([x, lo[k]])).reverse();
          return { type: "polygon", shape: { points: up.concat(dn) }, style: { fill: "rgba(153,153,153,0.4)" } };
        },
      });
      // fitted curve
      series.push({
        type: "line", xAxisIndex: i, yAxisIndex: i, data: fx.map((x, k) => [x, p.fitY[k]]), symbol: "none", smooth: 0.5,
        silent: true, z: 5, lineStyle: { color: p.line, width: 1.3 },
      });
      // log ticks (x bottom, y left)
      const tick = (data: number[][], size: number[], off: number[]) => ({
        type: "scatter", xAxisIndex: i, yAxisIndex: i, data, symbol: "rect", symbolSize: size, symbolOffset: off,
        clip: false, silent: true, z: 6, itemStyle: { color: "#333333" },
      });
      series.push(tick(majorTicks.map((v) => [v, Y_MIN]), [1.2, 5], [0, -1]));
      series.push(tick(minorTicks.map((v) => [v, Y_MIN]), [1.2, 2], [0, 0]));
      series.push(tick(majorTicks.map((v) => [X_MIN, v]), [5, 1.2], [0, 0]));
      series.push(tick(minorTicks.map((v) => [X_MIN, v]), [2, 1.2], [0, 0]));
    });
    chart.setOption({ animation: false, backgroundColor: "#ffffff", grid, xAxis, yAxis, series });
    return () => chart.dispose();
  }, []);
  return <div ref={ref} style={{ position: "absolute", left: 0, top: 0, width: 1118, height: 770 }} />;
}
